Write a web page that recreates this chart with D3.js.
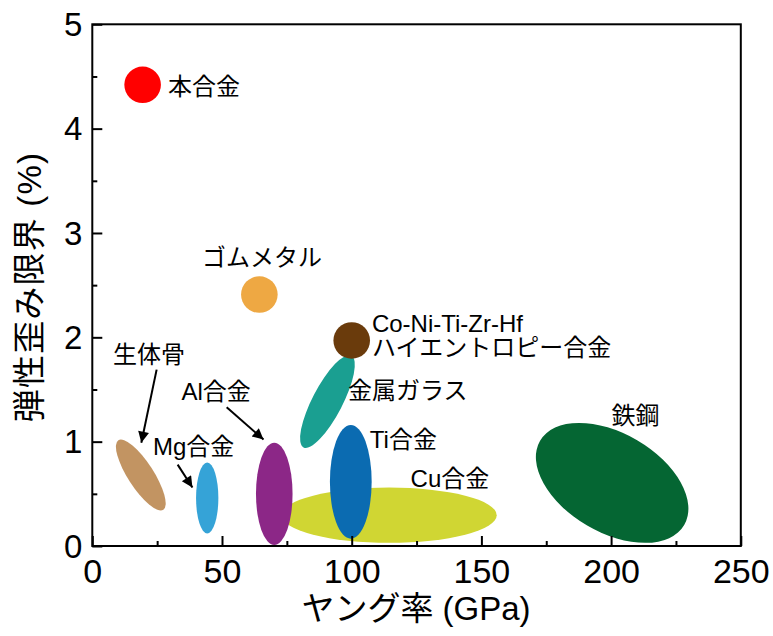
<!DOCTYPE html>
<html>
<head>
<meta charset="utf-8">
<script src="https://cdn.jsdelivr.net/npm/d3@7"></script>
<style>
  html, body { margin: 0; padding: 0; background: #fff; }
  svg text { font-family: "Liberation Sans", "Noto Sans CJK JP", sans-serif; fill: #000; }
</style>
</head>
<body>
<svg id="chart" width="773" height="636"></svg>
<script>
// Material classes drawn as ellipses: Young's modulus range (GPa), elastic strain limit range (%),
// and the tilt (correlation) of each region.
const regionNames  = ["Cu合金", "Al合金", "Mg合金", "生体骨", "鉄鋼", "Ti合金", "金属ガラス"];
const modulusMin   = [73.0, 63.1, 40.0,  9.1, 171.0,  91.6,  80.1];
const modulusMax   = [155.9, 77.2, 48.6, 28.3, 229.8, 107.7, 101.2];
const strainMin    = [0.03, 0.01, 0.12, 0.34, 0.03, 0.07, 0.94];
const strainMax    = [0.56, 0.99, 0.80, 1.02, 1.18, 1.16, 1.83];
const regionTilt   = [0, 0, 0, -0.80, -0.43, 0, 0.79];
const regionColors = ["#d0d633", "#8c2787", "#35a3d7", "#c29462", "#056633", "#0b6bb1", "#1a9f91"];

// Single alloys drawn as points.
const pointNames   = ["本合金", "ゴムメタル", "Co-Ni-Ti-Zr-Hf"];
const pointModulus = [19.4, 64.4, 100.0];
const pointStrain  = [4.42, 2.41, 1.97];
const pointColors  = ["#ff0000", "#eea843", "#6a3b0c"];

// Axis ticks.
const xMajorTicks = [0, 50, 100, 150, 200, 250];
const xMinorTicks = [25, 75, 125, 175, 225];
const yMajorTicks = [0, 1, 2, 3, 4, 5];
const yMinorTicks = [0.5, 1.5, 2.5, 3.5, 4.5];

const svg = d3.select("#chart");
const margin = { left: 92.3, right: 32.2, top: 24.3, bottom: 90 };
const W = 773, H = 636;

const x = d3.scaleLinear().domain([0, 250]).range([margin.left, W - margin.right]);
const y = d3.scaleLinear().domain([0, 5]).range([H - margin.bottom, margin.top]);

// Arrow head marker
svg.append("defs").append("marker")
  .attr("id", "arrowhead")
  .attr("viewBox", "0 0 10 10")
  .attr("refX", 10).attr("refY", 5)
  .attr("markerUnits", "userSpaceOnUse")
  .attr("markerWidth", 13).attr("markerHeight", 11)
  .attr("orient", "auto")
  .append("path").attr("d", "M0,0 L10,5 L0,10 Z").attr("fill", "#000");

// Regions: convert the data-space bounding box + tilt into a rotated pixel ellipse.
const regions = regionNames.map((name, i) => {
  const cx = x((modulusMin[i] + modulusMax[i]) / 2);
  const cy = y((strainMin[i] + strainMax[i]) / 2);
  const X = (x(modulusMax[i]) - x(modulusMin[i])) / 2;
  const Y = (y(strainMin[i]) - y(strainMax[i])) / 2;
  const c = -regionTilt[i] * X * Y;          // y axis points down in pixels
  const m = (X * X + Y * Y) / 2;
  const d = Math.sqrt(((X * X - Y * Y) / 2) ** 2 + c * c);
  const theta = 0.5 * Math.atan2(2 * c, X * X - Y * Y) * 180 / Math.PI;
  return { name, cx, cy, rx: Math.sqrt(m + d), ry: Math.sqrt(Math.max(m - d, 0)), theta, color: regionColors[i] };
});

const plot = svg.append("g");

plot.selectAll("ellipse.region").data(regions).join("ellipse")
  .attr("class", "region")
  .attr("transform", d => `translate(${d.cx},${d.cy}) rotate(${d.theta})`)
  .attr("rx", d => d.rx).attr("ry", d => d.ry)
  .attr("fill", d => d.color);

plot.selectAll("circle.point").data(pointNames.map((n, i) => ({ n, i }))).join("circle")
  .attr("class", "point")
  .attr("cx", d => x(pointModulus[d.i]))
  .attr("cy", d => y(pointStrain[d.i]))
  .attr("r", 18.3)
  .attr("fill", d => pointColors[d.i]);

// Axes (ticks point inward)
const xAxis = svg.append("g").attr("transform", `translate(0,${y(0)})`)
  .call(d3.axisBottom(x).tickValues(xMajorTicks).tickFormat(d3.format("d"))
    .tickSizeInner(-10).tickSizeOuter(0).tickPadding(13));
const xMinor = svg.append("g").attr("transform", `translate(0,${y(0)})`)
  .call(d3.axisBottom(x).tickValues(xMinorTicks).tickSizeInner(-5).tickSizeOuter(0).tickFormat(""));
const yAxis = svg.append("g").attr("transform", `translate(${x(0)},0)`)
  .call(d3.axisLeft(y).tickValues(yMajorTicks).tickFormat(d3.format("d"))
    .tickSizeInner(-10).tickSizeOuter(0).tickPadding(10));
const yMinor = svg.append("g").attr("transform", `translate(${x(0)},0)`)
  .call(d3.axisLeft(y).tickValues(yMinorTicks).tickSizeInner(-5).tickSizeOuter(0).tickFormat(""));

[xAxis, xMinor, yAxis, yMinor].forEach(g => {
  g.select(".domain").remove();
  g.selectAll(".tick line").attr("stroke", "#000").attr("stroke-width", 2);
});
xAxis.selectAll(".tick text").attr("font-size", 34).attr("font-family", null);
yAxis.selectAll(".tick text").attr("font-size", 33).attr("font-family", null).attr("dy", "0.34em");

// Frame
svg.append("rect")
  .attr("x", x(0)).attr("y", y(5))
  .attr("width", x(250) - x(0)).attr("height", y(0) - y(5))
  .attr("fill", "none").attr("stroke", "#000").attr("stroke-width", 2);

// Axis titles
svg.append("text")
  .attr("x", 416).attr("y", 620)
  .attr("text-anchor", "middle").attr("font-size", 33)
  .text("ヤング率 (GPa)");
svg.append("text")
  .attr("transform", `translate(41,287) rotate(-90)`)
  .attr("text-anchor", "middle").attr("font-size", 33)
  .attr("letter-spacing", 1.2)
  .text("弾性歪み限界 (%)");

// Annotations, placed in data coordinates (multi-line labels are split into lines)
const labelLayout = [
  { lines: ["本合金"],                               e: 29.2,  s: 4.32 },
  { lines: ["ゴムメタル"],                           e: 42.3,  s: 2.68 },
  { lines: ["Co-Ni-Ti-Zr-Hf", "ハイエントロピー合金"], e: 107.8, s: 2.05 },
  { lines: ["金属ガラス"],                           e: 98.6,  s: 1.408 },
  { lines: ["Ti合金"],                               e: 107.0, s: 0.939 },
  { lines: ["Cu合金"],                               e: 122.7, s: 0.566 },
  { lines: ["鉄鋼"],                                 e: 200.2, s: 1.169 },
  { lines: ["生体骨"],                               e: 8.0,   s: 1.754 },
  { lines: ["Al合金"],                               e: 34.4,  s: 1.40 },
  { lines: ["Mg合金"],                               e: 23.4,  s: 0.872 }
];
const lbl = svg.selectAll("text.lbl").data(labelLayout).join("text")
  .attr("class", "lbl")
  .attr("x", d => x(d.e)).attr("y", d => y(d.s))
  .attr("font-size", 24);
lbl.selectAll("tspan").data(d => d.lines.map((t, k) => ({ t, k, e: d.e }))).join("tspan")
  .attr("x", d => x(d.e))
  .attr("dy", d => d.k === 0 ? 0 : 23.6)
  .text(d => d.t);

const arrows = [
  { e0: 24.8, s0: 1.69, e1: 18.9, s1: 0.99 },
  { e0: 32.9, s0: 0.78, e1: 38.6, s1: 0.56 },
  { e0: 51.8, s0: 1.33, e1: 66.0, s1: 1.02 }
];
svg.selectAll("line.arrow").data(arrows).join("line")
  .attr("class", "arrow")
  .attr("x1", d => x(d.e0)).attr("y1", d => y(d.s0))
  .attr("x2", d => x(d.e1)).attr("y2", d => y(d.s1))
  .attr("stroke", "#000").attr("stroke-width", 2)
  .attr("marker-end", "url(#arrowhead)");
</script>
</body>
</html>
